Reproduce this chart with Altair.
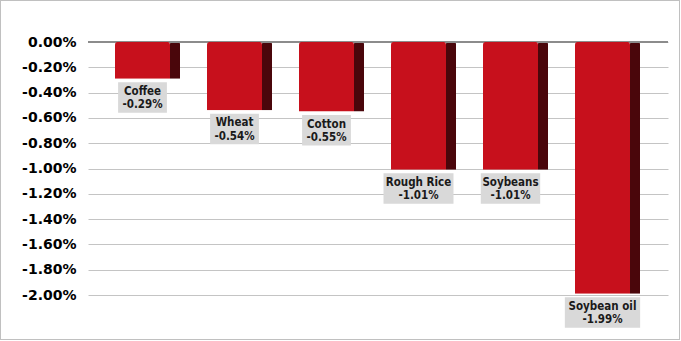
import altair as alt
import pandas as pd

names = ["Coffee", "Wheat", "Cotton", "Rough Rice", "Soybeans", "Soybean oil"]
values = [-0.0029, -0.0054, -0.0055, -0.0101, -0.0101, -0.0199]
tick_values = [0.0, -0.002, -0.004, -0.006, -0.008, -0.010, -0.012, -0.014, -0.016, -0.018, -0.020]

df = pd.DataFrame({"name": names, "v": values, "idx": list(range(len(names)))})

STEP = 92.0
W, H = 580, 253
LO = -59.5 / STEP
xs = alt.Scale(domain=[LO, LO + W / STEP], nice=False, zero=False, padding=0)
ys = alt.Scale(domain=[-0.02, 0], nice=False, padding=0)
FONT = "DejaVu Sans Condensed, DejaVu Sans"

AX = alt.Axis(
    values=tick_values,
    format=".2%",
    labelExpr="replace(datum.label, '\u2212', '-')",
    labelOverlap=False,
    grid=True,
    gridColor="#c4c4c4",
    gridWidth=1,
    domain=False,
    ticks=False,
    labelFont="DejaVu Sans",
    labelFontSize=14,
    labelFontWeight="bold",
    labelColor="#000000",
    labelPadding=12,
    title=None,
)

base = (
    alt.Chart(df)
    .transform_calculate(lbl="replace(format(datum.v, '.2%'), '\u2212', '-')")
    .transform_calculate(bw="max(length(datum.name), length(datum.lbl)) * 5.3 + 17")
    .transform_calculate(
        bx1="datum.idx + (-5 - datum.bw / 2) / 92",
        bx2="datum.idx + (-5 + datum.bw / 2) / 92",
    )
)

border = alt.Chart(df).mark_rect(fillOpacity=0, stroke="#c0c0c0", strokeWidth=1).encode(
    x=alt.value(-87.5), x2=alt.value(591.5), y=alt.value(-41.5), y2=alt.value(297.5)
)

X = alt.X("idx:Q", scale=xs, axis=None)
Y = alt.Y("v:Q", scale=ys, axis=AX)

side = base.mark_bar(size=10, xOffset=27.5, color="#4a060b", cornerRadiusEnd=2).encode(x=X, y=Y)

zero_rule = alt.Chart(df).mark_rule(color="#8c8c8c", strokeWidth=1.5).encode(
    y=alt.YDatum(0, scale=ys, axis=AX)
)

front = base.mark_bar(size=55, xOffset=-5, color="#c7101c", cornerRadiusEnd=2.5).encode(x=X, y=Y)

box = base.mark_rect(color="#d9d9d9", yOffset=3.5, y2Offset=34).encode(
    x=alt.X("bx1:Q", scale=xs, axis=None),
    x2="bx2:Q",
    y=Y,
    y2="v:Q",
)

txt1 = base.mark_text(
    font=FONT, fontSize=11.5, fontWeight="bold", color="#1a1a1a", xOffset=-5, yOffset=13, baseline="middle"
).encode(x=X, y=Y, text="name:N")

txt2 = base.mark_text(
    font=FONT, fontSize=11.5, fontWeight="bold", color="#1a1a1a", xOffset=-5, yOffset=26.5, baseline="middle"
).encode(x=X, y=Y, text="lbl:N")

chart = (
    alt.layer(border, side, zero_rule, front, box, txt1, txt2)
    .properties(
        width=W,
        height=H,
        autosize=alt.AutoSizeParams(type="none"),
        padding={"left": 88, "top": 42, "right": 13, "bottom": 46},
        background="#ffffff",
    )
    .configure_view(stroke=None)
)

chart.save("out.html", embed_options={"renderer": "svg", "actions": False})
